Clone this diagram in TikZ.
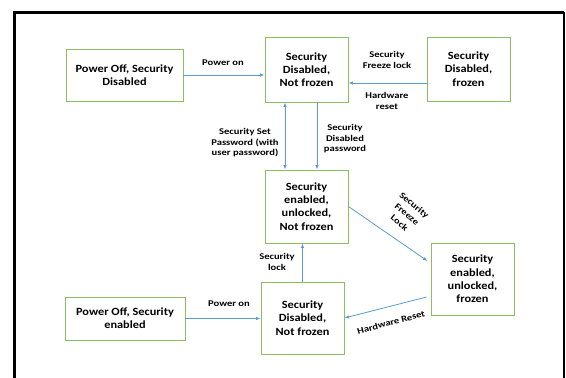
\documentclass[tikz,border=0pt]{standalone}
\usepackage{fontspec}
\setmainfont{Carlito}
\newfontfamily\boxfont[FakeStretch=1.12]{Carlito}
\newfontfamily\lblfont[FakeStretch=1.2]{Carlito}
\usetikzlibrary{arrows.meta}
\definecolor{boxgreen}{RGB}{140,190,95}
\definecolor{arrowblue}{RGB}{91,155,213}
\tikzset{
  statebox/.style={draw=boxgreen, line width=0.9pt, fill=white, align=center,
    font=\boxfont\fontsize{11}{13.3}\selectfont\bfseries, inner sep=0pt},
  trans/.style={draw=arrowblue, line width=0.8pt, -{Latex[length=4.5pt,width=3.5pt]}},
  bitrans/.style={draw=arrowblue, line width=0.8pt, {Latex[length=4.5pt,width=3.5pt]}-{Latex[length=4.5pt,width=3.5pt]}},
  lbl/.style={align=center, font=\lblfont\fontsize{8.8}{10.5}\selectfont\bfseries, inner sep=0pt},
  frame/.style={draw=black, line width=3pt}
}
\begin{document}
\begin{tikzpicture}[x=1pt,y=-1pt]
\useasboundingbox (0,0) rectangle (566,378);
\clip (0,0) rectangle (566,378);
\fill[white] (0,0) rectangle (566,378);
\coordinate (fbl) at (14,390);
\coordinate (ftl) at (14,12);
\coordinate (ftr) at (564,12);
\coordinate (fbr) at (564,390);
\draw[frame] (fbl) -- (ftl) -- (ftr);
\draw[draw=black, line width=2.5pt] (ftr) -- (fbr);

\node[statebox, minimum width=117pt, minimum height=52pt] (A) at (124.5,75) {Power Off, Security\\Disabled};
\node[statebox, minimum width=83pt, minimum height=65pt] (B) at (306.5,69.5) {Security\\Disabled,\\Not frozen};
\node[statebox, minimum width=83pt, minimum height=64pt] (C) at (468.5,69) {Security\\Disabled,\\frozen};
\node[statebox, minimum width=83pt, minimum height=73pt] (D) at (306.5,206.5) {Security\\enabled,\\unlocked,\\Not frozen};
\node[statebox, minimum width=83pt, minimum height=72pt] (E) at (472.5,279) {Security\\enabled,\\unlocked,\\frozen};
\node[statebox, minimum width=83pt, minimum height=72pt] (F) at (302.5,318) {Security\\Disabled,\\Not frozen};
\node[statebox, minimum width=120pt, minimum height=43pt] (G) at (125,318.5) {Power Off, Security\\enabled};

\draw[trans] (A.east) -- (A.east -| B.west);
\draw[trans] ([yshift=-14pt]C.west) -- ([yshift=-14pt]C.west -| B.east);
\draw[bitrans] ([xshift=-21.5pt]B.south) -- ([xshift=-21.5pt]B.south |- D.north);
\draw[trans] ([xshift=10.5pt]B.south) -- ([xshift=10.5pt]B.south |- D.north);
\draw[trans] (D.east) -- ([xshift=-3pt,yshift=18pt]E.west);
\draw[trans] (F.north) -- (F.north |- D.south);
\draw[trans] (G.east) -- (G.east -| F.west);
\draw[trans] ([xshift=-4pt,yshift=-18pt]E.west) -- (F.east);

\node[lbl] (l1) at (223,63) {Power on};
\node[lbl] (l2) at (387,60) {Security\\Freeze lock};
\node[lbl] (l3) at (387,101) {Hardware\\reset};
\node[lbl] (l4) at (245,143) {Security Set\\Password (with\\user password)};
\node[lbl] (l5) at (345,139) {Security\\Disabled\\password};
\node[lbl, rotate=-40, font=\lblfont\fontsize{8.8}{11.5}\selectfont\bfseries] (l6) at (407,214) {Security\\Freeze\\Lock};
\node[lbl] (l7) at (277,262) {Security\\lock};
\node[lbl] (l8) at (229,304) {Power on};
\node[lbl, rotate=15] (l9) at (391,322.5) {Hardware Reset};
\end{tikzpicture}
\end{document}
